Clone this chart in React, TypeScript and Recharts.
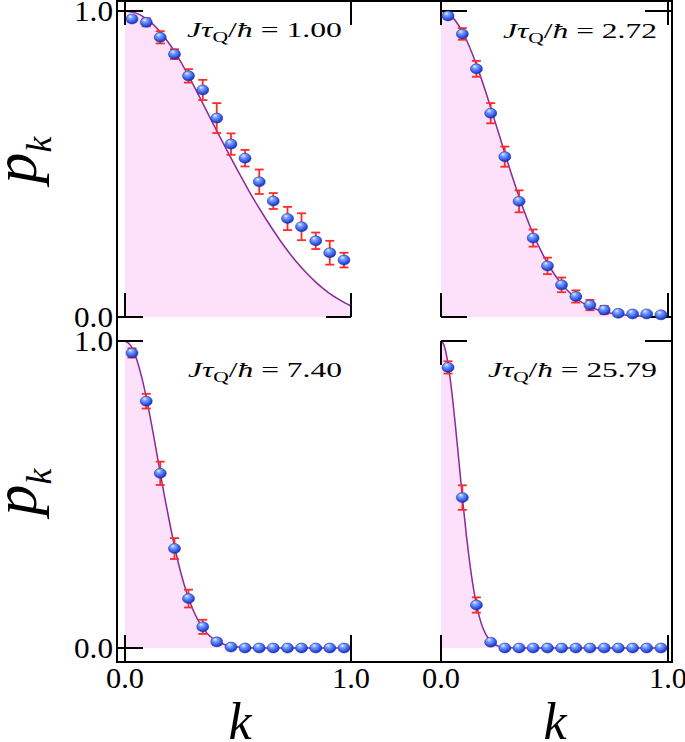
import React from 'react';
import { ComposedChart, Area, Scatter, ErrorBar, XAxis, YAxis, ReferenceLine } from 'recharts';

// ---------- data ----------
const kPoints = [0.031, 0.094, 0.156, 0.219, 0.281, 0.344, 0.406, 0.469, 0.531, 0.594, 0.656, 0.719, 0.781, 0.844, 0.906, 0.969];

const pTL = [0.974, 0.963, 0.914, 0.859, 0.788, 0.742, 0.65, 0.565, 0.519, 0.442, 0.379, 0.322, 0.295, 0.249, 0.21, 0.186];
const eTL = [0.01, 0.013, 0.02, 0.016, 0.022, 0.033, 0.049, 0.035, 0.027, 0.04, 0.026, 0.038, 0.044, 0.027, 0.039, 0.024];

const pTR = [0.984, 0.925, 0.811, 0.666, 0.524, 0.378, 0.258, 0.167, 0.105, 0.067, 0.039, 0.023, 0.012, 0.01, 0.01, 0.007];
const eTR = [0.01, 0.019, 0.026, 0.033, 0.033, 0.036, 0.028, 0.027, 0.024, 0.02, 0.017, 0.013, 0.008, 0.006, 0.006, 0.005];

const pBL = [0.961, 0.804, 0.569, 0.324, 0.161, 0.069, 0.02, 0.003, 0.0, 0.0, 0.0, 0.0, 0.0, 0.0, 0.0, 0.0];
const eBL = [0.015, 0.024, 0.038, 0.034, 0.029, 0.023, 0.01, 0.005, 0.004, 0.004, 0.004, 0.004, 0.004, 0.004, 0.004, 0.004];

const pBR = [0.914, 0.49, 0.14, 0.019, 0.0, 0.0, 0.0, 0.0, 0.0, 0.0, 0.0, 0.0, 0.0, 0.0, 0.0, 0.0];
const eBR = [0.02, 0.04, 0.025, 0.008, 0.004, 0.004, 0.004, 0.004, 0.004, 0.004, 0.004, 0.004, 0.004, 0.004, 0.004, 0.004];

const curveKTL = [0, 0.05, 0.1, 0.15, 0.2, 0.25, 0.3, 0.35, 0.4, 0.45, 0.5, 0.55, 0.6, 0.65, 0.7, 0.75, 0.8, 0.85, 0.9, 0.95, 1];
const curvePTL = [1.0, 0.993, 0.972, 0.937, 0.889, 0.83, 0.762, 0.69, 0.617, 0.546, 0.477, 0.41, 0.348, 0.29, 0.236, 0.188, 0.146, 0.11, 0.08, 0.056, 0.036];

const curveKTR = [0, 0.05, 0.1, 0.15, 0.2, 0.25, 0.3, 0.35, 0.4, 0.45, 0.5, 0.55, 0.6, 0.65, 0.7, 0.75, 0.8, 0.85, 0.9, 0.95, 1];
const curvePTR = [1.0, 0.98, 0.924, 0.837, 0.729, 0.61, 0.491, 0.38, 0.282, 0.202, 0.139, 0.092, 0.058, 0.036, 0.021, 0.012, 0.007, 0.004, 0.002, 0.001, 0.0];

const curveKBL = [0, 0.025, 0.05, 0.075, 0.1, 0.125, 0.15, 0.175, 0.2, 0.225, 0.25, 0.275, 0.3, 0.325, 0.35, 0.375, 0.4, 0.45, 0.5, 0.55, 0.6, 0.8, 1];
const curvePBL = [1.0, 0.986, 0.944, 0.879, 0.795, 0.698, 0.596, 0.494, 0.399, 0.312, 0.237, 0.176, 0.126, 0.088, 0.06, 0.039, 0.025, 0.009, 0.003, 0.001, 0, 0, 0];

const curveKBR = [0, 0.0125, 0.025, 0.0375, 0.05, 0.0625, 0.075, 0.0875, 0.1, 0.1125, 0.125, 0.1375, 0.15, 0.1625, 0.175, 0.1875, 0.2, 0.225, 0.25, 0.275, 0.3, 0.35, 0.5, 1];
const curvePBR = [1.0, 0.988, 0.951, 0.894, 0.819, 0.732, 0.638, 0.542, 0.449, 0.363, 0.287, 0.22, 0.165, 0.121, 0.086, 0.06, 0.041, 0.017, 0.007, 0.002, 0.001, 0, 0, 0];

const tauValues = ['1.00', '2.72', '7.40', '25.79'];
const axisTickValues = [0, 1];
const axisTickText = ['0.0', '1.0'];

// ---------- styles ----------
const FONT = 'Liberation Serif, DejaVu Serif, serif';
const CURVE = '#8a2a9a';
const FILL = '#fde0f9';
const ERR = '#ff2b2b';

const zip = (k: number[], p: number[]) => k.map((kk, i) => ({ k: kk, p: p[i] }));
const pts = (p: number[], e: number[]) => kPoints.map((k, i) => ({ k, p: p[i], e: e[i] }));

type Box = {
  left: number; top: number; right: number; bottom: number;
  plotLeft: number; plotTop: number; plotRight: number; plotBottom: number;
  k0: number; k1: number; p1: number; p0: number;
};

type TickFns = {
  h: (p: number, kStart: number, lenPx: number) => any;
  v: (k: number, pStart: number, lenPx: number) => any;
  kDom: number[]; pDom: number[]; kScale: number;
};

const yTick = (props: any) => {
  const { x, y, payload } = props;
  const i = axisTickValues.indexOf(payload.value);
  return (
    <text x={x} y={y + 10} textAnchor="end" fontFamily={FONT} fontSize={29} fill="#000" textLength={39} lengthAdjust="spacingAndGlyphs">
      {axisTickText[i]}
    </text>
  );
};

const xTick = (props: any) => {
  const { x, y, payload } = props;
  const i = axisTickValues.indexOf(payload.value);
  return (
    <text x={x - 19} y={y + 26} fontFamily={FONT} fontSize={29} fill="#000" textLength={38} lengthAdjust="spacingAndGlyphs">
      {axisTickText[i]}
    </text>
  );
};

function Panel(props: {
  id: string; points: any[]; curve: any[]; box: Box; showY: boolean; showX: boolean;
  ticks: (f: TickFns) => any[];
}) {
  const { id, points, curve, box, showY, showX, ticks } = props;
  const kScale = box.k1 - box.k0;
  const pScale = box.p0 - box.p1;
  const kDom = [(box.plotLeft - box.k0) / kScale, (box.plotRight - box.k0) / kScale];
  const pDom = [(box.p0 - box.plotBottom) / pScale, (box.p0 - box.plotTop) / pScale];
  const width = box.right - box.left;
  const height = box.bottom - box.top;
  const margin = {
    left: showY ? 0 : box.plotLeft - box.left,
    top: box.plotTop - box.top,
    right: box.right - box.plotRight,
    bottom: showX ? 0 : box.bottom - box.plotBottom,
  };
  const h = (p: number, kStart: number, lenPx: number) => [
    { x: kStart, y: p },
    { x: kStart + lenPx / kScale, y: p },
  ];
  const v = (k: number, pStart: number, lenPx: number) => [
    { x: k, y: pStart },
    { x: k, y: pStart + lenPx / pScale },
  ];
  const segs = ticks({ h, v, kDom, pDom, kScale });
  const gid = `ball-${id}`;
  const ball = (sp: any) => {
    const { cx, cy } = sp;
    if (cx == null || cy == null) return <g />;
    return (
      <ellipse cx={cx} cy={cy} rx={6} ry={5} fill={`url(#${gid})`} stroke="#1d2a96" strokeWidth={0.5} />
    );
  };
  return (
    <div style={{ position: 'absolute', left: box.left, top: box.top, width, height }}>
      <ComposedChart width={width} height={height} data={curve} margin={margin}>
        <defs>
          <radialGradient id={gid} cx="0.42" cy="0.35" r="0.65" fx="0.36" fy="0.25">
            <stop offset="0" stopColor="#e6f0ff" />
            <stop offset="0.3" stopColor="#7aa2ff" />
            <stop offset="0.75" stopColor="#2f57ee" />
            <stop offset="1" stopColor="#1b2b9c" />
          </radialGradient>
        </defs>
        <XAxis
          type="number"
          dataKey="k"
          domain={kDom}
          ticks={axisTickValues}
          interval={0}
          hide={!showX}
          height={showX ? box.bottom - box.plotBottom : 0}
          axisLine={false}
          tickLine={false}
          tickSize={0}
          tickMargin={0}
          tick={xTick}
        />
        <YAxis
          type="number"
          domain={pDom}
          ticks={axisTickValues}
          interval={0}
          hide={!showY}
          width={showY ? box.plotLeft - box.left : 0}
          axisLine={false}
          tickLine={false}
          tickSize={0}
          tickMargin={4}
          tick={yTick}
        />
        <Area
          type="monotone"
          dataKey="p"
          stroke={CURVE}
          strokeWidth={1.5}
          fill={FILL}
          fillOpacity={1}
          baseValue={0}
          dot={false}
          activeDot={false}
          isAnimationActive={false}
        />
        {segs.map((s, i) => (
          <ReferenceLine key={i} segment={s} stroke="#000" strokeWidth={2} ifOverflow="visible" />
        ))}
        <Scatter data={points} dataKey="p" shape={ball} isAnimationActive={false}>
          <ErrorBar dataKey="e" width={4.5} stroke={ERR} strokeWidth={1.8} direction="y" />
        </Scatter>
      </ComposedChart>
    </div>
  );
}

const boxTL: Box = { left: 0, top: 0, right: 380, bottom: 328, plotLeft: 117, plotTop: 0, plotRight: 380, plotBottom: 328, k0: 125, k1: 351, p1: 11, p0: 317 };
const boxTR: Box = { left: 395, top: 0, right: 680, bottom: 328, plotLeft: 395, plotTop: 0, plotRight: 673, plotBottom: 328, k0: 441, k1: 668, p1: 11, p0: 317 };
const boxBL: Box = { left: 0, top: 328, right: 380, bottom: 742, plotLeft: 117, plotTop: 328, plotRight: 380, plotBottom: 662, k0: 125, k1: 351, p1: 341, p0: 648 };
const boxBR: Box = { left: 395, top: 328, right: 685, bottom: 742, plotLeft: 395, plotTop: 328, plotRight: 673, plotBottom: 662, k0: 441, k1: 668, p1: 341, p0: 648 };

const ticksTL = ({ h, v, kDom, pDom }: TickFns) => [
  h(1, kDom[0], 26), h(0, kDom[0], 26),
  v(0, pDom[1], -25), v(1, pDom[1], -25),
  v(0, 0, 24), v(1, 0, 24),
  h(0, 1, -25),
];
const ticksTR = ({ h, v, pDom, kScale }: TickFns) => [
  h(1, 0, 26), h(0, 0, 26),
  v(0, pDom[1], -25), v(1, pDom[1], -25),
  v(0, 0, 24), v(1, 0, 24),
  h(1, 1 + 4 / kScale, -27), h(0, 1 + 4 / kScale, -27),
];
const ticksBL = ({ h, v, kDom, pDom }: TickFns) => [
  h(1, kDom[0], 26), h(0, kDom[0], 26),
  v(0, pDom[0], 27), v(1, pDom[0], 27),
];
const ticksBR = ({ h, v, pDom, kScale }: TickFns) => [
  h(1, 0, 26),
  v(0, 1, -24),
  v(0, pDom[0], 27), v(1, pDom[0], 27),
  h(1, 1 + 4 / kScale, -27),
];

function Annot({ x, y, len, value }: { x: number; y: number; len: number; value: string }) {
  return (
    <text x={x} y={y} fontFamily={FONT} fontSize={22} fill="#000" textLength={len} lengthAdjust="spacingAndGlyphs">
      <tspan fontStyle="italic">J</tspan>
      <tspan fontStyle="italic">τ</tspan>
      <tspan fontSize={15} dy={5}>Q</tspan>
      <tspan dy={-5}>/</tspan>
      <tspan fontStyle="italic">ħ</tspan>
      <tspan>{` = ${value}`}</tspan>
    </text>
  );
}

export default function App() {
  return (
    <div style={{ position: 'absolute', left: 0, top: 0, width: 685, height: 742, background: '#fff', overflow: 'hidden' }}>
      <style>{'.recharts-surface{overflow:visible}'}</style>
      <Panel id="tl" points={pts(pTL, eTL)} curve={zip(curveKTL, curvePTL)} box={boxTL} showY showX={false} ticks={ticksTL} />
      <Panel id="tr" points={pts(pTR, eTR)} curve={zip(curveKTR, curvePTR)} box={boxTR} showY={false} showX={false} ticks={ticksTR} />
      <Panel id="bl" points={pts(pBL, eBL)} curve={zip(curveKBL, curvePBL)} box={boxBL} showY showX ticks={ticksBL} />
      <Panel id="br" points={pts(pBR, eBR)} curve={zip(curveKBR, curvePBR)} box={boxBR} showY={false} showX ticks={ticksBR} />
      <div style={{ position: 'absolute', left: 116, top: 0, width: 557, height: 663, border: '2px solid #000', boxSizing: 'border-box', pointerEvents: 'none' }} />
      <svg width={685} height={742} style={{ position: 'absolute', left: 0, top: 0, pointerEvents: 'none' }}>
        <Annot x={187} y={37} len={155} value={tauValues[0]} />
        <Annot x={503} y={38} len={154} value={tauValues[1]} />
        <Annot x={188} y={377} len={154} value={tauValues[2]} />
        <Annot x={488} y={377} len={169} value={tauValues[3]} />
        <text transform="translate(36,160) rotate(-90)" textAnchor="middle" fontFamily={FONT} fontSize={62} fontStyle="italic" fill="#000">
          p<tspan fontSize={36} dy={15}>k</tspan>
        </text>
        <text transform="translate(36,492) rotate(-90)" textAnchor="middle" fontFamily={FONT} fontSize={62} fontStyle="italic" fill="#000">
          p<tspan fontSize={36} dy={15}>k</tspan>
        </text>
        <text x={240} y={739} textAnchor="middle" fontFamily={FONT} fontSize={52} fontStyle="italic" fill="#000">k</text>
        <text x={555} y={739} textAnchor="middle" fontFamily={FONT} fontSize={52} fontStyle="italic" fill="#000">k</text>
      </svg>
    </div>
  );
}
